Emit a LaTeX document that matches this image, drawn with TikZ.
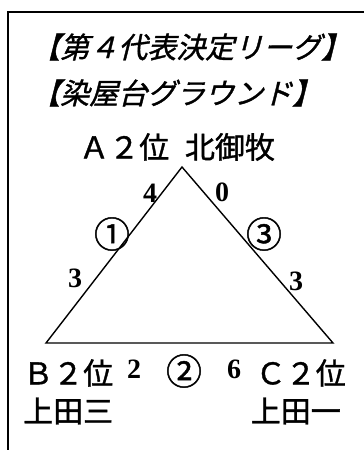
\documentclass[tikz,border=0pt]{standalone}
\usepackage{fontspec}
\setmainfont{Liberation Serif}
\newfontfamily\jp[FakeBold=1.2]{Noto Sans CJK JP}
\newfontfamily\jpit[FakeSlant=0.25,FakeBold=1.2]{Noto Sans CJK JP}
\newfontfamily\numfont{Liberation Serif Bold}
\begin{document}
\begin{tikzpicture}[x=1pt,y=-1pt,
  jpt/.style={font=\jpit\fontsize{29}{29}\selectfont, inner sep=0pt},
  jpn/.style={font=\jp\fontsize{30}{30}\selectfont, inner sep=0pt},
  num/.style={font=\numfont\fontsize{28}{28}\selectfont, inner sep=0pt},
  circ/.style={font=\jp\fontsize{36}{36}\selectfont, inner sep=0pt},
  edge/.style={line width=1.4pt}]
\useasboundingbox (0,0) rectangle (364,450);
\draw[line width=2pt] (364,12) -- (8,12) -- (8,450);
% titles
\node[jpt, anchor=west] (t1) at (31,47) {【第４代表決定リーグ】};
\node[jpt, anchor=west] (t2) at (31,93) {【染屋台グラウンド】};
\node[jpn, anchor=west] (a) at (79,147) {Ａ２位\hspace{9pt} 北御牧};
% triangle
\coordinate (A) at (182,167);
\coordinate (B) at (46,343);
\coordinate (C) at (333,343);
\draw[edge] (A) -- (B) -- (C) -- cycle;
% scores
\node[num] (s4) at (150,193) {4};
\node[num] (s0) at (222,192) {0};
\node[num] (s3l) at (75,278) {3};
\node[num] (s3r) at (296,281) {3};
\node[num] (s2) at (134,369) {2};
\node[num] (s6) at (234,369) {6};
% match numbers
\node[circ] (m1) at (112,234) {①};
\node[circ] (m3) at (264,234) {③};
\node[circ] (m2) at (184,371) {②};
% bottom teams
\node[jpn, anchor=west] (b) at (23,373) {Ｂ２位};
\node[jpn, anchor=west] (bn) at (23,411) {上田三};
\node[jpn, anchor=east] (c) at (346,373) {Ｃ２位};
\node[jpn, anchor=east] (cn) at (341,411) {上田一};
\end{tikzpicture}
\end{document}
